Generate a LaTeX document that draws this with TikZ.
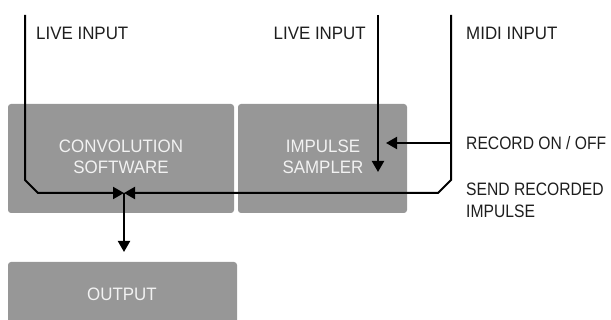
\documentclass[tikz,border=0pt]{standalone}
\usepackage{fontspec}
\setmainfont[FakeStretch=0.94]{Liberation Sans}
\newfontfamily\slimfont[FakeStretch=0.87]{Liberation Sans}
\usetikzlibrary{arrows.meta}
\definecolor{boxgray}{HTML}{979797}
\definecolor{boxtext}{HTML}{F2F2F2}
\definecolor{labeltext}{HTML}{1E1E1E}
\tikzset{
  block/.style={fill=boxgray, draw=none, rounded corners=3pt, inner sep=0pt},
  blocktext/.style={text=boxtext, align=center, inner sep=0pt,
    font=\fontsize{18}{21}\selectfont},
  label/.style={text=labeltext, inner sep=0pt, align=left,
    font=\fontsize{18}{22}\selectfont},
  slimlabel/.style={label, font=\slimfont\fontsize{18}{22}\selectfont},
  signal/.style={line width=2pt, black},
  tip/.style={-{Triangle[length=11pt,width=12pt]}},
}
\begin{document}
\begin{tikzpicture}[x=1pt, y=-1pt]
\useasboundingbox (0,0) rectangle (611,320);

% processing blocks
\fill[block] (8,104) rectangle (234,213);
\fill[block] (238,104) rectangle (407,213);
\fill[block] (8,262) rectangle (237,330);
\node[blocktext] (conv) at (121,157) {CONVOLUTION\\SOFTWARE};
\node[blocktext] (sampler) at (323,157) {IMPULSE\\SAMPLER};
\node[blocktext] (output) at (122,294) {OUTPUT};

% input labels
\node[label, anchor=west] (live1) at (36,33) {LIVE INPUT};
\node[label, anchor=east] (live2) at (366,33) {LIVE INPUT};
\node[label, anchor=west] (midi) at (466,33) {MIDI INPUT};
\node[slimlabel, anchor=west] (record) at (466,143) {RECORD ON / OFF};
\node[slimlabel, anchor=north west] (send) at (466,183) {SEND RECORDED\\IMPULSE};

% signal routing points
\coordinate (liveA) at (25,15);
\coordinate (liveB) at (378,15);
\coordinate (midiIn) at (451,15);
\coordinate (join) at (124,193);
\coordinate (sampIn) at (378,172);
\coordinate (recIn) at (386,143);
\coordinate (recTap) at (451,143);
\coordinate (outIn) at (124,252);

% connectors
\draw[signal, tip] (liveA) -- (25,180) -- (38,193) -- (join);
\draw[signal, tip] (midiIn) -- (451,180) -- (438,193) -- (join);
\draw[signal, tip] (liveB) -- (sampIn);
\draw[signal, tip] (recTap) -- (recIn);
\draw[signal, tip] (join) -- (outIn);
\end{tikzpicture}
\end{document}
